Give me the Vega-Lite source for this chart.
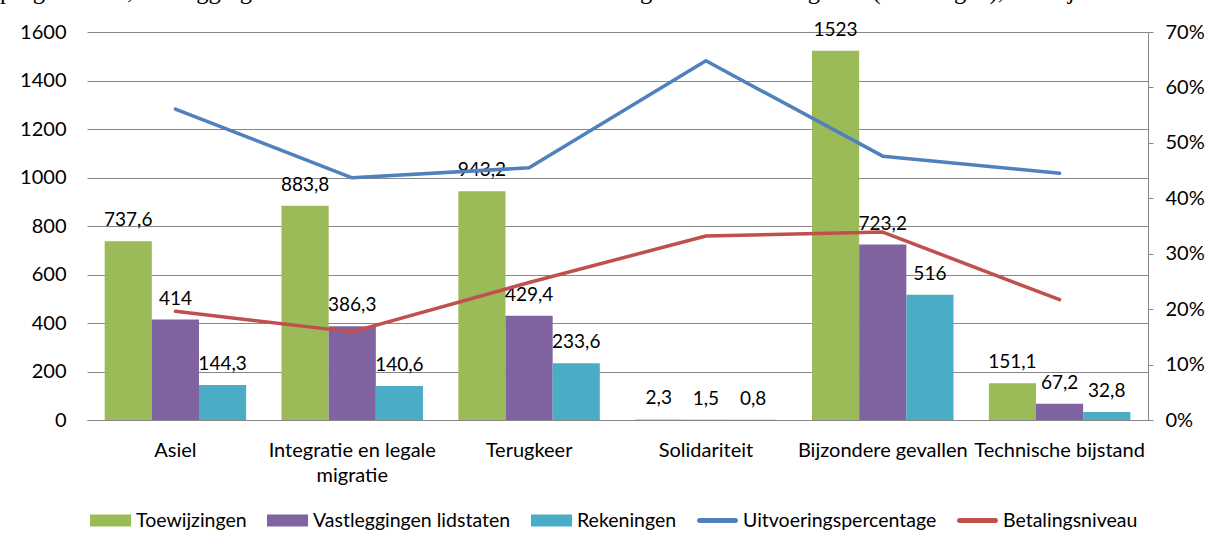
{
  "$schema": "https://vega.github.io/schema/vega-lite/v6.json",
  "autosize": {"type": "none"},
  "width": 1061,
  "height": 388,
  "padding": {"left": 87, "top": 32, "right": 66, "bottom": 127},
  "background": "white",
  "title": {
    "text": "programma's, vastleggingen van de lidstaten en door de lidstaten gedeclareerde uitgaven (rekeningen), in miljoenen EUR.",
    "font": "Liberation Serif",
    "fontSize": 24.5,
    "fontWeight": "normal",
    "color": "black",
    "anchor": "start",
    "frame": "group",
    "dx": -87,
    "offset": 16
  },
  "config": {
    "font": "Lato",
    "view": {"stroke": null},
    "locale": {"number": {"decimal": ",", "thousands": ".", "grouping": [9], "currency": ["€", ""]}},
    "axis": {"labelFont": "Lato", "labelFontSize": 20, "labelColor": "black", "title": null}
  },
  "datasets": {
    "bars": [
      {"category": "Asiel", "series": "Toewijzingen", "value": 737.6},
      {"category": "Asiel", "series": "Vastleggingen lidstaten", "value": 414},
      {"category": "Asiel", "series": "Rekeningen", "value": 144.3},
      {"category": "Integratie en legale migratie", "series": "Toewijzingen", "value": 883.8},
      {"category": "Integratie en legale migratie", "series": "Vastleggingen lidstaten", "value": 386.3},
      {"category": "Integratie en legale migratie", "series": "Rekeningen", "value": 140.6},
      {"category": "Terugkeer", "series": "Toewijzingen", "value": 943.2},
      {"category": "Terugkeer", "series": "Vastleggingen lidstaten", "value": 429.4},
      {"category": "Terugkeer", "series": "Rekeningen", "value": 233.6},
      {"category": "Solidariteit", "series": "Toewijzingen", "value": 2.3},
      {"category": "Solidariteit", "series": "Vastleggingen lidstaten", "value": 1.5},
      {"category": "Solidariteit", "series": "Rekeningen", "value": 0.8},
      {"category": "Bijzondere gevallen", "series": "Toewijzingen", "value": 1523},
      {"category": "Bijzondere gevallen", "series": "Vastleggingen lidstaten", "value": 723.2},
      {"category": "Bijzondere gevallen", "series": "Rekeningen", "value": 516},
      {"category": "Technische bijstand", "series": "Toewijzingen", "value": 151.1},
      {"category": "Technische bijstand", "series": "Vastleggingen lidstaten", "value": 67.2},
      {"category": "Technische bijstand", "series": "Rekeningen", "value": 32.8}
    ],
    "lines": [
      {"category": "Asiel", "series": "Uitvoeringspercentage", "pct": 0.561},
      {"category": "Integratie en legale migratie", "series": "Uitvoeringspercentage", "pct": 0.437},
      {"category": "Terugkeer", "series": "Uitvoeringspercentage", "pct": 0.455},
      {"category": "Solidariteit", "series": "Uitvoeringspercentage", "pct": 0.648},
      {"category": "Bijzondere gevallen", "series": "Uitvoeringspercentage", "pct": 0.476},
      {"category": "Technische bijstand", "series": "Uitvoeringspercentage", "pct": 0.445},
      {"category": "Asiel", "series": "Betalingsniveau", "pct": 0.196},
      {"category": "Integratie en legale migratie", "series": "Betalingsniveau", "pct": 0.159},
      {"category": "Terugkeer", "series": "Betalingsniveau", "pct": 0.248},
      {"category": "Solidariteit", "series": "Betalingsniveau", "pct": 0.332},
      {"category": "Bijzondere gevallen", "series": "Betalingsniveau", "pct": 0.339},
      {"category": "Technische bijstand", "series": "Betalingsniveau", "pct": 0.217}
    ]
  },
  "encoding": {
    "x": {
      "field": "category",
      "type": "nominal",
      "sort": ["Asiel", "Integratie en legale migratie", "Terugkeer", "Solidariteit", "Bijzondere gevallen", "Technische bijstand"],
      "scale": {"paddingInner": 0.2, "paddingOuter": 0.1},
      "axis": {
        "labelAngle": 0,
        "ticks": false,
        "domain": true,
        "domainColor": "#878787",
        "domainWidth": 1,
        "labelPadding": 20,
        "labelLineHeight": 25,
        "labelBaseline": "top",
        "labelLimit": 0,
        "labelExpr": "datum.value == 'Integratie en legale migratie' ? ['Integratie en legale', 'migratie'] : datum.value"
      }
    }
  },
  "layer": [
    {
      "data": {"name": "bars"},
      "encoding": {
        "xOffset": {"field": "series", "type": "nominal", "sort": ["Toewijzingen", "Vastleggingen lidstaten", "Rekeningen"], "scale": {"paddingInner": 0, "paddingOuter": 0}},
        "y": {
          "field": "value",
          "type": "quantitative",
          "scale": {"domain": [0, 1600], "nice": false},
          "axis": {
            "orient": "left",
            "values": [0, 200, 400, 600, 800, 1000, 1200, 1400, 1600],
            "grid": true,
            "gridColor": "#878787",
            "gridWidth": 1,
            "domain": false,
            "ticks": false,
            "labelPadding": 21,
            "format": "d"
          }
        }
      },
      "layer": [
        {
          "mark": {"type": "bar"},
          "encoding": {
            "color": {
              "field": "series",
              "type": "nominal",
              "scale": {
                "domain": ["Toewijzingen", "Vastleggingen lidstaten", "Rekeningen", "Uitvoeringspercentage", "Betalingsniveau"],
                "range": ["#9BBB59", "#8064A2", "#4BACC6", "#4F81BD", "#C0504D"]
              },
              "legend": {
                "title": null,
                "orient": "none",
                "direction": "horizontal",
                "legendX": 3,
                "legendY": 468,
                "labelFont": "Lato",
                "labelFontSize": 19.5,
                "labelColor": "black",
                "labelLimit": 0,
                "symbolSize": 1681,
                "labelOffset": 5,
                "columnPadding": 20,
                "symbolStrokeWidth": 0,
                "encode": {
                  "symbols": {
                    "update": {
                      "shape": {"signal": "(datum.value == 'Uitvoeringspercentage' || datum.value == 'Betalingsniveau') ? 'M-0.88,-0.12H0.88A0.12,0.12 0 0 1 0.88,0.12H-0.88A0.12,0.12 0 0 1 -0.88,-0.12Z' : 'M-1,-0.29H1V0.29H-1Z'"},
                      "fill": {"signal": "datum.value == 'Toewijzingen' ? '#9BBB59' : datum.value == 'Vastleggingen lidstaten' ? '#8064A2' : datum.value == 'Rekeningen' ? '#4BACC6' : datum.value == 'Uitvoeringspercentage' ? '#4F81BD' : '#C0504D'"},
                      "fillOpacity": {"value": 1},
                      "strokeWidth": {"value": 0}
                    }
                  }
                }
              }
            }
          }
        },
        {
          "mark": {"type": "text", "dy": -21, "baseline": "middle", "font": "Lato", "fontSize": 19, "color": "black"},
          "encoding": {
            "text": {"field": "value", "type": "quantitative", "format": ".1~f"}
          }
        }
      ]
    },
    {
      "data": {"name": "lines"},
      "mark": {"type": "line", "strokeWidth": 3.5, "strokeCap": "round", "strokeJoin": "round"},
      "encoding": {
        "y": {
          "field": "pct",
          "type": "quantitative",
          "scale": {"domain": [0, 0.7], "nice": false},
          "axis": {
            "orient": "right",
            "values": [0, 0.1, 0.2, 0.3, 0.4, 0.5, 0.6, 0.7],
            "format": ".0%",
            "grid": false,
            "domain": true,
            "domainColor": "#878787",
            "ticks": true,
            "tickSize": 5,
            "tickColor": "#878787",
            "labelPadding": 12
          }
        },
        "color": {"field": "series", "type": "nominal"}
      }
    }
  ],
  "resolve": {"scale": {"y": "independent"}}
}
